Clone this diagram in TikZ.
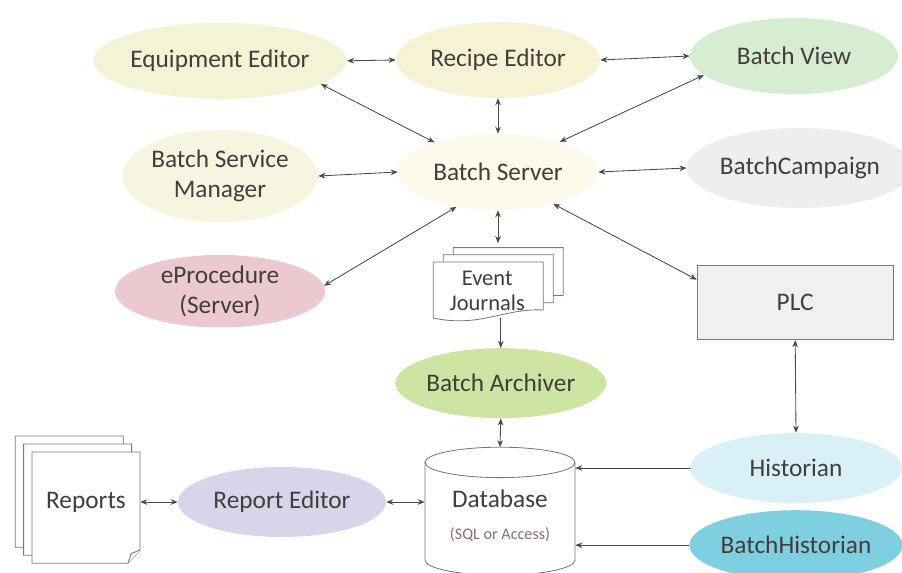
\documentclass[tikz,border=0pt]{standalone}
\usepackage{fontspec}
\setmainfont{Carlito}
\usepackage{tikz}
\usetikzlibrary{calc}
\usetikzlibrary{shapes.geometric}
\usetikzlibrary{arrows.meta}
\definecolor{txtgray}{RGB}{66,62,58}
\definecolor{linegray}{RGB}{75,72,72}
\definecolor{docgray}{RGB}{120,120,120}
\definecolor{eqyellow}{RGB}{243,243,214}
\definecolor{reyellow}{RGB}{245,243,212}
\definecolor{bsmyellow}{RGB}{246,245,224}
\definecolor{bsyellow}{RGB}{251,250,235}
\definecolor{bvgreen}{RGB}{214,237,210}
\definecolor{bcgray}{RGB}{238,238,238}
\definecolor{eppink}{RGB}{236,201,209}
\definecolor{bagreen}{RGB}{206,228,162}
\definecolor{rplilac}{RGB}{217,212,234}
\definecolor{hicyan}{RGB}{217,240,246}
\definecolor{bhcyan}{RGB}{126,207,224}
\definecolor{plcfill}{RGB}{240,240,242}
\definecolor{sqlred}{RGB}{140,110,110}

\begin{document}
\begin{tikzpicture}[
        oval/.style={ellipse,inner sep=0pt,minimum width=5.1cm,minimum height=1.9cm,align=center,text=txtgray,font=\fontsize{18}{21.5}\selectfont},
        link/.style={draw=linegray,line width=0.6pt,{Stealth[length=5pt,width=4pt]}-{Stealth[length=5pt,width=4pt]}},
        onelink/.style={draw=linegray,line width=0.6pt,-{Stealth[length=5pt,width=4pt]}},
        paper/.style={draw=docgray,line width=0.6pt,fill=white}]
                \useasboundingbox (0,0) rectangle (22.55,-14.325);

                \node[oval,fill=eqyellow] (EE) at (5.5,-1.52) {Equipment Editor};
                \node[oval,fill=reyellow] (RE) at (12.45,-1.5) {Recipe Editor};
                \node[oval,fill=bvgreen,minimum width=5.2cm] (BV) at (19.85,-1.4) {Batch View};
                \node[oval,fill=bsmyellow,minimum width=4.9cm,minimum height=2.3cm] (BSM) at (5.5,-4.4) {Batch Service\\Manager};
                \node[oval,fill=bsyellow,minimum width=5cm] (BS) at (12.45,-4.3) {Batch Server};
                \node[oval,fill=bcgray,minimum width=5.3cm,minimum height=2cm] (BC) at (20.0,-4.2) {BatchCampaign};
                \node[oval,fill=eppink,minimum width=5.25cm,minimum height=1.8cm] (EP) at (5.5,-7.28) {eProcedure\\(Server)};
                \node[oval,fill=bagreen,minimum width=5.2cm,minimum height=1.75cm] (BA) at (12.52,-9.58) {Batch Archiver};
                \node[oval,fill=rplilac,minimum width=5.2cm,minimum height=1.75cm] (RpE) at (7.05,-12.55) {Report Editor};
                \node[oval,fill=hicyan,minimum width=5.3cm,minimum height=1.75cm] (HI) at (19.9,-11.7) {Historian};
                \node[oval,fill=bhcyan,minimum width=5.3cm,minimum height=1.75cm] (BH) at (19.9,-13.63) {BatchHistorian};
                \node[draw=docgray,fill=plcfill,line width=0.6pt,minimum width=4.9cm,minimum height=1.87cm,text=txtgray,font=\fontsize{18}{21.5}\selectfont] (PLC) at (19.88,-7.56) {PLC};

                % event journals
                \foreach \s in {2,1,0}
                    \draw[paper,shift={(\s*0.25,\s*0.18)}] (10.83,-7.95) -- (10.83,-6.55) -- (13.58,-6.55) -- (13.58,-7.75) .. controls (12.6,-7.7) and (12.0,-8.2) .. (10.83,-7.95);
                \node[text=txtgray,align=center,font=\fontsize{16}{18}\selectfont] (EJ) at (12.18,-7.28) {Event\\Journals};
                \coordinate (EJtop) at (12.45,-6.08);
                \coordinate (EJbot) at (12.52,-7.95);

                % reports
                \foreach \s in {2,1,0}
                    \draw[paper,shift={(-\s*0.21,\s*0.2)}] (0.8,-11.3) -- (3.5,-11.3) -- (3.5,-13.75) -- (3.2,-14.08) -- (0.8,-14.08) -- cycle;
                \draw[paper] (3.5,-13.75) -- (3.28,-13.84) -- (3.2,-14.08);
                \node[text=txtgray,minimum width=2.7cm,inner sep=0pt,font=\fontsize{18}{21.5}\selectfont] (RP) at (2.15,-12.55) {Reports};

                % database
                \coordinate (DBtop) at (12.5,-11.18);
                \draw[paper] (10.625,-11.56) -- (10.625,-14.0) arc(180:360:1.875cm and 0.38cm) -- (14.375,-11.56) arc(0:180:1.875cm and 0.38cm) -- cycle;
                \draw[docgray,line width=0.6pt] (10.625,-11.56) arc(180:360:1.875cm and 0.38cm);
                \node[text=txtgray,align=center,minimum width=3.75cm,inner sep=0pt,font=\fontsize{18}{21.5}\selectfont] (DB) at (12.5,-12.9) {Database\\[1pt]{\fontsize{11.5}{13}\selectfont\color{sqlred}(SQL or Access)}};

                \draw[link] (EE.east) -- (RE.west);
                \draw[link] (RE.east) -- (BV.west);
                \draw[link] (RE.south) -- (BS.north);
                \draw[link] (EE.-13) -- (BS.155);
                \draw[link] (BV.192) -- (BS.26);
                \draw[link] (BSM.east) -- (BS.west);
                \draw[link] (BS.east) -- (BC.west);
                \draw[link] (EP.3) -- (BS.220);
                \draw[link] (BS.-30) -- (PLC.167);
                \draw[link] (BS.south) -- (EJtop);
                \draw[onelink] (EJbot) -- (BA.north);
                \draw[link] (BA.south) -- (DBtop);
                \draw[link] (PLC.south) -- (HI.north);
                \draw[onelink] (HI.west) -- (HI.west -| DB.east);
                \draw[onelink] (BH.west) -- (BH.west -| DB.east);
                \draw[link] (RpE.east) -- (RpE.east -| DB.west);
                \draw[link] (RP.east) -- (RpE.west);
            \end{tikzpicture}
\end{document}
